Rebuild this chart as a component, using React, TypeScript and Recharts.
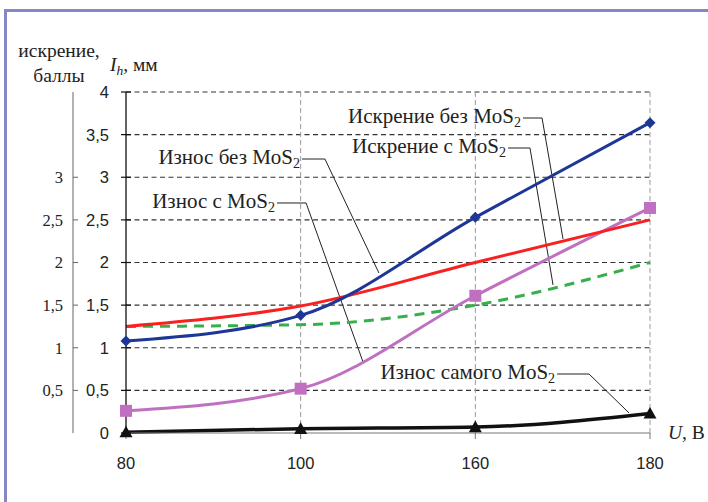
import React from 'react';
import { ComposedChart, Line, XAxis, YAxis, ReferenceLine, ReferenceDot } from 'recharts';

// ---- data ----
const categories = ['80', '100', '160', '180'];
const sparkNoMoS2 = [1.08, 1.38, 2.53, 3.64];
const wearNoMoS2 = [1.25, 1.49, 2.0, 2.5];
const sparkWithMoS2 = [1.25, 1.27, 1.5, 2.0];
const wearWithMoS2 = [0.26, 0.52, 1.61, 2.64];
const wearMoS2Itself = [0.01, 0.05, 0.07, 0.23];
const mainTicks = [0, 0.5, 1, 1.5, 2, 2.5, 3, 3.5, 4];
const secondTicks = [0.5, 1, 1.5, 2, 2.5, 3];
const gridValues = [0.5, 1, 1.5, 2, 2.5, 3, 3.5, 4];
const verticalGrid = [1, 2, 3];

const data = categories.map((c, i) => ({
  x: i,
  sparkNo: sparkNoMoS2[i],
  wearNo: wearNoMoS2[i],
  sparkWith: sparkWithMoS2[i],
  wearWith: wearWithMoS2[i],
  wearSelf: wearMoS2Itself[i],
}));

const fmt = (v: number) => String(v).replace('.', ',');

// ---- annotation layout (data coordinates) ----
const annotations = [
  { text: 'Искрение без MoS', x0: 2.273, x1: 2.382, x2: 2.502, y0: 3.695, y1: 2.276 },
  { text: 'Искрение с MoS', x0: 2.187, x1: 2.313, x2: 2.445, y0: 3.343, y1: 1.736 },
  { text: 'Износ без MoS', x0: 1.008, x1: 1.139, x2: 1.448, y0: 3.214, y1: 1.877 },
  { text: 'Износ с MoS', x0: 0.864, x1: 1.031, x2: 1.357, y0: 2.698, y1: 0.833 },
  { text: 'Износ самого MoS', x0: 2.468, x1: 2.651, x2: 2.88, y0: 0.692, y1: 0.235 },
];

const SERIF = '"Liberation Serif", "Times New Roman", serif';
const SANS = '"Liberation Sans", Arial, sans-serif';

const Diamond = (p: any) => {
  const { cx, cy } = p;
  if (cx == null || cy == null) return null;
  const s = 5.5;
  return <path key={`d${cx}`} d={`M${cx},${cy - s}L${cx + s},${cy}L${cx},${cy + s}L${cx - s},${cy}Z`} fill="#1e3796" />;
};
const Square = (p: any) => {
  const { cx, cy } = p;
  if (cx == null || cy == null) return null;
  const s = 6;
  return <rect key={`s${cx}`} x={cx - s} y={cy - s} width={2 * s} height={2 * s} fill="#c070c0" />;
};
const Triangle = (p: any) => {
  const { cx, cy } = p;
  if (cx == null || cy == null) return null;
  const s = 6.5;
  return <path key={`t${cx}`} d={`M${cx},${cy - s}L${cx + s},${cy + s * 0.8}L${cx - s},${cy + s * 0.8}Z`} fill="#111" />;
};

const MainTick = (p: any) => {
  const { x, y, payload } = p;
  return (
    <g>
      <line x1={x - 5} x2={x + 5} y1={y} y2={y} stroke="#111" strokeWidth={1.2} />
      <text x={x - 17} y={y} dy="0.36em" textAnchor="end" fontFamily={SANS} fontSize={16.5} fill="#222">
        {fmt(payload.value)}
      </text>
    </g>
  );
};

const SecondTick = (p: any) => {
  const { x, y, payload } = p;
  return (
    <g>
      <line x1={x} x2={x + 5} y1={y} y2={y} stroke="#666" strokeWidth={1} />
      <text x={x - 10} y={y} dy="0.36em" textAnchor="end" fontFamily={SERIF} fontSize={16.5} fill="#222">
        {fmt(payload.value)}
      </text>
    </g>
  );
};

const XTick = (p: any) => {
  const { x, y, payload } = p;
  return (
    <text x={x} y={y} dy="0.36em" textAnchor="middle" fontFamily={SANS} fontSize={16.5} fill="#222">
      {categories[payload.value]}
    </text>
  );
};

export default function App() {
  return (
    <div style={{ position: 'absolute', left: 0, top: 0, width: 708, height: 502, overflow: 'hidden', background: '#fff' }}>
      <div
        style={{
          position: 'absolute',
          left: 4,
          top: 9,
          width: 720,
          height: 520,
          borderTop: '3px solid #8587c7',
          borderLeft: '3px solid #8587c7',
        }}
      />
      <div style={{ position: 'absolute', left: 0, top: 0 }}>
        <ComposedChart width={708} height={502} data={data} margin={{ top: 92, right: 58, bottom: 0, left: 20 }}>
          <XAxis
            dataKey="x"
            type="number"
            domain={[0, 3]}
            ticks={[0, 1, 2, 3]}
            allowDecimals={false}
            stroke="#777"
            tickLine={{ stroke: '#777' }}
            tickSize={6}
            tickMargin={24}
            tick={<XTick />}
            height={69}
          />
          <YAxis
            yAxisId="main"
            domain={[0, 4]}
            ticks={mainTicks}
            width={53}
            stroke="#111"
            strokeWidth={1.3}
            tickLine={false}
            tickSize={0}
            tickMargin={0}
            tick={<MainTick />}
            interval={0}
          />
          <YAxis
            yAxisId="second"
            type="number"
            domain={[0, 4]}
            allowDataOverflow={true}
            ticks={secondTicks}
            width={53}
            stroke="#666"
            tickLine={false}
            tickSize={0}
            tickMargin={0}
            tick={<SecondTick />}
            interval={0}
          />
          {gridValues.map((v) => (
            <ReferenceLine key={`h${v}`} yAxisId="main" y={v} stroke="#333" strokeDasharray="5 3.5" strokeWidth={1.1} />
          ))}
          {verticalGrid.map((v) => (
            <ReferenceLine key={`v${v}`} yAxisId="main" x={v} stroke="#999" strokeDasharray="5 3" strokeWidth={1} />
          ))}
          {annotations.map((a, i) => (
            <ReferenceLine
              key={`a1${i}`}
              yAxisId="main"
              ifOverflow="visible"
              segment={[{ x: a.x0, y: a.y0 }, { x: a.x1, y: a.y0 }]}
              stroke="#222"
              strokeWidth={1}
            />
          ))}
          {annotations.map((a, i) => (
            <ReferenceLine
              key={`a2${i}`}
              yAxisId="main"
              ifOverflow="visible"
              segment={[{ x: a.x1, y: a.y0 }, { x: a.x2, y: a.y1 }]}
              stroke="#222"
              strokeWidth={1}
            />
          ))}
          <Line yAxisId="main" type="monotone" dataKey="wearSelf" stroke="#111" strokeWidth={3.5} dot={<Triangle />} isAnimationActive={false} />
          <Line yAxisId="main" type="monotone" dataKey="sparkWith" stroke="#35b04a" strokeWidth={3} strokeDasharray="10 7" dot={false} isAnimationActive={false} />
          <Line yAxisId="main" type="monotone" dataKey="wearWith" stroke="#c070c0" strokeWidth={3} dot={<Square />} isAnimationActive={false} />
          <Line yAxisId="main" type="monotone" dataKey="wearNo" stroke="#fa2020" strokeWidth={3} dot={false} isAnimationActive={false} />
          <Line yAxisId="main" type="monotone" dataKey="sparkNo" stroke="#1e3796" strokeWidth={3} dot={<Diamond />} isAnimationActive={false} />
          {annotations.map((a, i) => (
            <ReferenceDot
              key={`t${i}`}
              yAxisId="main"
              x={a.x0}
              y={a.y0}
              r={0}
              ifOverflow="visible"
              shape={(p: any) => (
                <text x={p.cx - 2} y={p.cy + 5} textAnchor="end" fontFamily={SERIF} fontSize={21} fill="#222">
                  {a.text}
                  <tspan fontSize={14} dy={4}>2</tspan>
                </text>
              )}
            />
          ))}
        </ComposedChart>
      </div>
      <div style={{ position: 'absolute', left: 16, top: 38, fontFamily: SERIF, fontSize: 19.5, color: '#222', lineHeight: '25px', textAlign: 'center', width: 86 }}>
        искрение,
        <br />
        баллы
      </div>
      <div style={{ position: 'absolute', left: 110, top: 54, fontFamily: SERIF, fontSize: 19.5, color: '#222', whiteSpace: 'nowrap' }}>
        <i>I</i>
        <i style={{ fontSize: 13.5, position: 'relative', top: 4 }}>h</i>, мм
      </div>
      <div style={{ position: 'absolute', left: 668, top: 422, fontFamily: SERIF, fontSize: 19.5, color: '#222', whiteSpace: 'nowrap' }}>
        <i>U</i>, В
      </div>
    </div>
  );
}
